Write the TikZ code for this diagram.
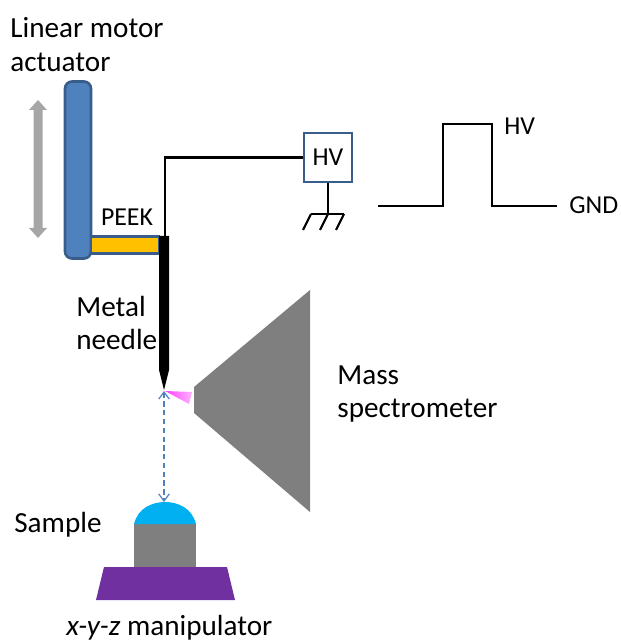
\documentclass[tikz,border=0pt]{standalone}
\usepackage{fontspec}
\setmainfont{Carlito}
\usepackage{tikz}
\usetikzlibrary{
    arrows.meta,
    calc
}
\definecolor{motorblue}{HTML}{4F81BD}
\definecolor{edgeblue}{HTML}{385D8A}
\definecolor{peekyellow}{HTML}{FFC000}
\definecolor{specgray}{HTML}{7F7F7F}
\definecolor{arrowgray}{HTML}{A6A6A6}
\definecolor{dropblue}{HTML}{00B0F0}
\definecolor{stagepurple}{HTML}{7030A0}
\tikzset{
    txt/.style={font=\fontsize{16.6}{19.3}\selectfont,align=left,anchor=west,inner sep=0pt},
    smalltxt/.style={font=\fontsize{14.7}{19.3}\selectfont,inner sep=0pt},
    wire/.style={line width=1.2pt,black},
    box/.style={draw=edgeblue,line width=1.5pt,inner sep=0pt}
}

\begin{document}
\begin{tikzpicture}[x=0.02cm,y=-0.02cm]
\useasboundingbox (0,0) rectangle (620,641);

% Motion arrow
\fill[arrowgray] (38,100) -- (47,110) -- (42.5,110) -- (42.5,228) -- (47,228) -- (38,238)
  -- (29,228) -- (33.5,228) -- (33.5,110) -- (29,110) -- cycle;

% Actuator and holder
\node[box,fill=motorblue,rounded corners=4pt,minimum width=0.52cm,minimum height=3.54cm] (actuator) at (78,170) {};
\node[box,fill=peekyellow,minimum width=1.36cm,minimum height=0.34cm] (peek) at (125,245) {};
\node[smalltxt] (peeklabel) at (127,217) {PEEK};

% Metal needle
\fill[black] (159,236) -- (169,236) -- (169,370) -- (164,390) -- (159,370) -- cycle;
\coordinate (needletop) at (165,236);
\coordinate (needletip) at (164,391);

% HV supply
\node[box,fill=white,minimum width=0.96cm,minimum height=0.98cm,smalltxt] (hv) at (328,157.5) {HV};
\draw[wire] (needletop) |- (hv.west);

% Ground
\coordinate (ground) at (328,214);
\draw[wire] (hv.south) -- (ground);
\draw[wire] (311,214) -- (344,214);
\foreach \x in {311,328,344}
{
\draw[wire] (\x,214) -- (\x-8,230);
}

% Pulse
\draw[wire] (378,206) -- (443,206) -- (443,124) -- (492,124) -- (492,206) -- (557,206);
\node[smalltxt,anchor=west] (pulsehigh) at (504,126) {HV};
\node[smalltxt,anchor=west] (pulselow) at (569,205) {GND};

% Mass spectrometer
\fill[specgray] (310,290) -- (310,512) -- (194,413) -- (194,387) -- cycle;
\shade[left color=magenta!75,right color=magenta!30,draw=none] (165,391) -- (192,392) -- (189,404) -- cycle;

% Sample and stage
\fill[stagepurple] (104,567) -- (227,567) -- (235,600) -- (96,600) -- cycle;
\fill[specgray] (134,524) rectangle (196,567);
\fill[dropblue] (134,524) .. controls (138,508) and (152,502) .. (165,502)
  .. controls (178,502) and (192,508) .. (196,524) -- cycle;
\coordinate (droptop) at (164,502);

% Distance arrow
\draw[motorblue,line width=0.7pt,densely dashed,{Straight Barb[length=4pt,width=6pt]}-{Straight Barb[length=4pt,width=6pt]}] (needletip) -- (droptop);

% Labels
\node[txt] (motorlabel) at (10,45) {Linear motor\\actuator};
\node[txt] (needlelabel) at (76,323) {Metal\\needle};
\node[txt] (speclabel) at (337,394) {Mass\\spectrometer};
\node[txt] (samplelabel) at (14,525) {Sample};
\node[txt] (stagelabel) at (66,628) {\textit{x-y-z} manipulator};

\end{tikzpicture}
\end{document}
